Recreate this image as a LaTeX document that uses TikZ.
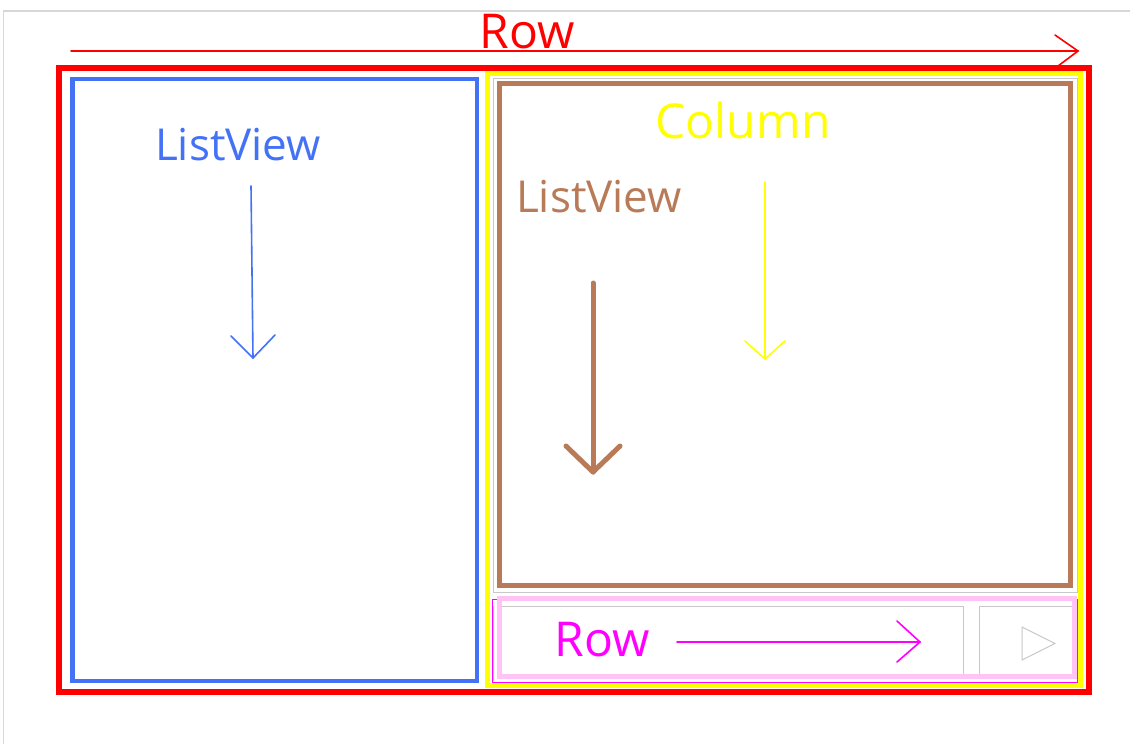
\documentclass[tikz,border=0pt]{standalone}
\usepackage{fontspec}
\setmainfont{Open Sans}
\definecolor{pred}{RGB}{255,0,0}
\definecolor{pblue}{RGB}{68,114,246}
\definecolor{pyellow}{RGB}{255,255,0}
\definecolor{pbrown}{RGB}{185,122,87}
\definecolor{ppink}{RGB}{255,196,245}
\definecolor{pmag}{RGB}{255,0,255}
\definecolor{pgray}{RGB}{200,200,200}
\definecolor{fgray}{RGB}{215,215,215}
\tikzset{
  lbl/.style={anchor=base, inner sep=0pt, font=\fontsize{48}{56}\selectfont},
  lvlbl/.style={anchor=base, inner sep=0pt, font=\fontsize{44}{52}\selectfont},
  box/.style={line width=#1, line join=miter},
  thinline/.style={line width=1.6pt, line cap=round, line join=miter},
}
\begin{document}
\begin{tikzpicture}[x=1pt,y=-1pt]
\useasboundingbox (0,0) rectangle (1130,744);
\fill[white] (0,0) rectangle (1130,744);
% outer frame
\draw[fgray, line width=1.5pt] (3.5,744) -- (3.5,11) -- (1130,11);
% top red Row
\node[lbl, text=pred] (rowtop) at (527,48) {Row};
\coordinate (rt0) at (71,51);
\coordinate (rt1) at (1078,51);
\draw[pred, thinline] (rt0) -- (rt1);
\draw[pred, thinline] (1055,35) -- (rt1) -- (1058,66);
% red rectangle
\draw[pred, box=6pt] (59,68) rectangle (1088.5,692);
% blue rectangle
\draw[pblue, box=4.5pt] (72.5,79) rectangle (477,681);
% yellow rectangle
\draw[pyellow, box=5pt] (487.5,73.5) rectangle (1080.5,685);
% gray thin rect
\draw[pgray, line width=1pt] (493,78) rectangle (1077,592);
% brown rectangle
\draw[pbrown, box=5pt] (499.5,83.5) rectangle (1070.5,585.5);
% row area
\draw[pmag, line width=1pt] (492.5,599.5) rectangle (1077,682);
\draw[pgray, line width=1pt] (493.5,606) -- (493.5,681);
\draw[pgray, line width=1pt] (499,606) rectangle (963,678);
\draw[pgray, line width=1pt] (979,606) rectangle (1072,678);
\draw[ppink, box=5pt] (499.5,598) rectangle (1074.5,676);
\draw[pgray, line width=1pt, line join=miter] (1022,627) -- (1055,643.5) -- (1022,660) -- cycle;
% blue ListView
\node[lvlbl, text=pblue] (lvblue) at (238,160) {ListView};
\coordinate (bl0) at (251,186);
\coordinate (bl1) at (253,358);
\draw[pblue, thinline] (bl0) -- (bl1);
\draw[pblue, thinline] (231,336) -- (bl1) -- (275,335);
% yellow Column
\node[lbl, text=pyellow] (col) at (743,138) {Column};
\coordinate (yc0) at (765,182);
\coordinate (yc1) at (765,359);
\draw[pyellow, thinline] (yc0) -- (yc1);
\draw[pyellow, thinline] (745,341) -- (yc1) -- (785,341);
% brown ListView
\node[lvlbl, text=pbrown] (lvbrown) at (599,212) {ListView};
\coordinate (br0) at (593,283);
\coordinate (br1) at (593,472);
\draw[pbrown, line width=5pt, line cap=round] (br0) -- (br1);
\draw[pbrown, line width=5pt, line cap=round, line join=round] (566,446) -- (br1) -- (620,446);
% magenta Row
\node[lbl, text=pmag] (rowmag) at (602,656) {Row};
\coordinate (mr0) at (677,642);
\coordinate (mr1) at (920,642);
\draw[pmag, thinline] (mr0) -- (mr1);
\draw[pmag, thinline] (897,621) -- (mr1) -- (897,662);
\end{tikzpicture}
\end{document}
